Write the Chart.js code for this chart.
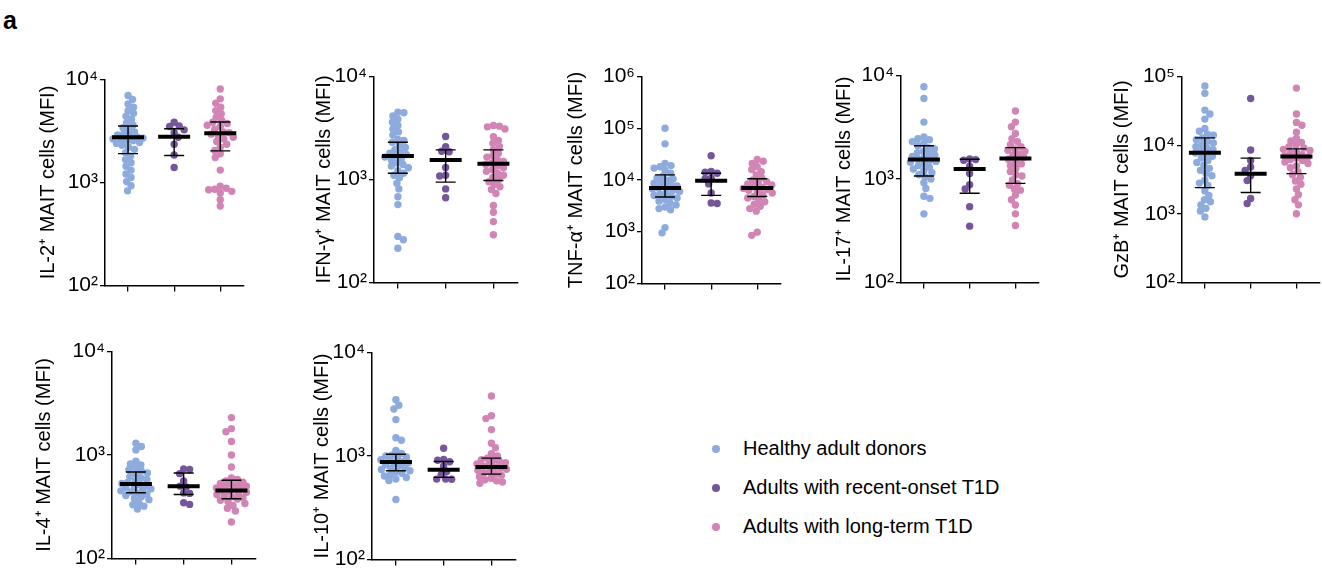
<!DOCTYPE html>
<html>
<head>
<meta charset="utf-8">
<script src="https://cdn.jsdelivr.net/npm/chart.js@4.4.0/dist/chart.umd.min.js"></script>
<style>
  body { margin: 0; width: 1322px; height: 572px; background: #fff; position: relative; overflow: hidden;
         font-family: "Liberation Sans", Arial, sans-serif; }
  #tag { position: absolute; left: 3px; top: 6px; font-size: 25px; font-weight: bold; }
  #legend { position: absolute; left: 712px; top: 429px; font-size: 20px; color: #000; }
  #legend div { height: 39px; display: flex; align-items: center; }
  #legend span.dot { width: 8px; height: 8px; border-radius: 50%; margin-right: 23px; display: inline-block; }
</style>
</head>
<body>
<div id="tag">a</div>
<div id="legend"></div>
<script>
const groups = ["Healthy adult donors", "Adults with recent-onset T1D", "Adults with long-term T1D"];
const colors = ["#8dabdc", "#76569a", "#d285b5"];

// IL-2
const il2Healthy = [7000, 6400, 5800, 5400, 5000, 4700, 4400, 4100, 3800, 3600, 3400, 3200, 3100, 2950, 2900, 2800, 2750, 2700, 2650, 2600, 2550, 2500, 2450, 2400, 2300, 2200, 2100, 1950, 1800, 1670, 1560, 1440, 1320, 1210, 1120, 1020, 930, 830];
const il2Recent = [3850, 3550, 3500, 3250, 3050, 2750, 2350, 1850, 1400];
const il2Long = [8100, 6500, 5900, 5400, 5000, 4650, 4300, 4000, 3850, 3750, 3600, 3500, 3300, 3100, 3050, 2950, 2850, 2750, 2650, 2500, 2350, 2200, 2050, 1900, 1750, 1320, 920, 880, 860, 850, 820, 790, 680, 590];
const il2Median = [2750, 2790, 3010];
const il2Q1 = [1910, 1830, 2030];
const il2Q3 = [3540, 3330, 3870];

// IFN-gamma
const ifngHealthy = [4500, 4450, 4150, 3850, 3600, 3350, 3100, 2900, 2700, 2450, 2400, 2300, 2150, 2050, 1950, 1850, 1800, 1750, 1700, 1650, 1600, 1550, 1450, 1400, 1350, 1300, 1220, 1150, 1100, 1040, 920, 810, 680, 570, 280, 260, 215];
const ifngRecent = [2620, 2080, 1880, 1860, 1310, 1100, 1080, 810, 665];
const ifngLong = [3350, 3300, 3250, 3100, 2600, 2400, 2250, 2100, 1950, 1800, 1700, 1650, 1550, 1500, 1450, 1400, 1350, 1300, 1250, 1200, 1150, 1100, 1050, 1000, 950, 900, 850, 800, 730, 560, 480, 390, 290];
const ifngMedian = [1690, 1550, 1420];
const ifngQ1 = [1150, 942, 978];
const ifngQ3 = [2300, 1940, 1940];

// TNF-alpha
const tnfHealthy = [100000, 50000, 21000, 19000, 18000, 17000, 15500, 13500, 12000, 11000, 10500, 9800, 9000, 8700, 8000, 7700, 7300, 7000, 6700, 6300, 6000, 5600, 5300, 5000, 4800, 4500, 4200, 3900, 3600, 3300, 3000, 2800, 2650, 1200, 950];
const tnfRecent = [29500, 14600, 14200, 13500, 10800, 10600, 8400, 5600, 3600, 3500];
const tnfLong = [25000, 23000, 21000, 18000, 16000, 14500, 12500, 11000, 10000, 9300, 8800, 8400, 8000, 7500, 7200, 6900, 6600, 6300, 6000, 5600, 5200, 4800, 4500, 4100, 3800, 3400, 3100, 2800, 2500, 980, 850];
const tnfMedian = [6970, 9640, 6970];
const tnfQ1 = [4680, 5040, 4780];
const tnfQ3 = [12560, 13500, 10600];

// IL-17
const il17Healthy = [7800, 6000, 3550, 2550, 2450, 2400, 2300, 2200, 2100, 2000, 1950, 1850, 1800, 1750, 1700, 1650, 1600, 1560, 1520, 1480, 1450, 1400, 1350, 1300, 1250, 1200, 1150, 1100, 1050, 1000, 920, 810, 680, 650, 460];
const il17Recent = [1560, 1540, 1520, 1330, 1130, 880, 800, 540, 350];
const il17Long = [4550, 3550, 3200, 2750, 2450, 2300, 2150, 2050, 1950, 1900, 1850, 1750, 1700, 1620, 1550, 1470, 1400, 1350, 1270, 1180, 1100, 1070, 980, 900, 870, 800, 780, 700, 630, 560, 460, 355];
const il17Median = [1546, 1250, 1580];
const il17Q1 = [1070, 728, 908];
const il17Q3 = [2100, 1550, 2010];

// GzB
const gzbHealthy = [73000, 57000, 32500, 28500, 24000, 17500, 16000, 14500, 14000, 12800, 12000, 11400, 10800, 10200, 9500, 9100, 8600, 8200, 7700, 7300, 6900, 6500, 6000, 5600, 5100, 4600, 4300, 3900, 3600, 3100, 2800, 2600, 2150, 1850, 1600, 1500, 1350, 1200, 1100, 900];
const gzbRecent = [48000, 8500, 6000, 4800, 4300, 3600, 3050, 1670, 1410];
const gzbLong = [68000, 28500, 21500, 19500, 15500, 12500, 11500, 11000, 10000, 9500, 9100, 8700, 8400, 8000, 7700, 7300, 7000, 6700, 6500, 6200, 6000, 5700, 5400, 5000, 4700, 4100, 3700, 3400, 3000, 2700, 2300, 1900, 1600, 1350, 1000];
const gzbMedian = [7740, 3850, 6850];
const gzbQ1 = [2410, 2040, 3850];
const gzbQ3 = [12800, 6490, 8850];

// IL-4
const il4Healthy = [1300, 1210, 1120, 870, 820, 800, 750, 720, 700, 670, 650, 620, 600, 580, 560, 545, 530, 515, 500, 490, 480, 470, 460, 450, 440, 430, 420, 405, 395, 380, 370, 345, 330, 320, 300];
const il4Recent = [735, 725, 660, 560, 500, 490, 430, 425, 345, 333];
const il4Long = [2300, 1800, 1680, 1350, 1000, 765, 600, 580, 560, 545, 530, 520, 510, 500, 490, 480, 470, 463, 455, 445, 436, 425, 415, 405, 395, 386, 375, 365, 355, 340, 325, 305, 287, 225];
const il4Median = [525, 499, 453];
const il4Q1 = [431, 415, 377];
const il4Q3 = [684, 670, 569];

// IL-10
const il10Healthy = [3500, 3100, 2850, 2250, 1500, 1420, 1130, 1060, 1020, 1000, 980, 950, 920, 900, 880, 860, 840, 820, 800, 780, 760, 740, 720, 700, 680, 660, 640, 620, 600, 580, 380];
const il10Recent = [1190, 925, 910, 880, 800, 710, 660, 600, 598, 595];
const il10Long = [3800, 2450, 2300, 1800, 1330, 1200, 1050, 1000, 950, 920, 900, 880, 860, 840, 820, 800, 780, 760, 745, 730, 710, 690, 670, 650, 630, 610, 590, 575, 560, 545];
const il10Median = [873, 736, 781];
const il10Q1 = [719, 621, 668];
const il10Q3 = [1040, 885, 953];

const sup = { 2: "\u00b2", 3: "\u00b3", 4: "\u2074", 5: "\u2075", 6: "\u2076" };
const FONT = "'Liberation Sans', Arial, sans-serif";

// panel placement (pixels on the page)
const panels = [
  { title: "IL-2\u207a MAIT cells (MFI)", series: [il2Healthy, il2Recent, il2Long], med: il2Median, q1: il2Q1, q3: il2Q3,
    max: 1e4, titleX: 48, axisX: 105, top: 79, bottom: 286, right: 245 },
  { title: "IFN-\u03b3\u207a MAIT cells (MFI)", series: [ifngHealthy, ifngRecent, ifngLong], med: ifngMedian, q1: ifngQ1, q3: ifngQ3,
    max: 1e4, titleX: 324, axisX: 374, top: 76, bottom: 283, right: 519 },
  { title: "TNF-\u03b1\u207a MAIT cells (MFI)", series: [tnfHealthy, tnfRecent, tnfLong], med: tnfMedian, q1: tnfQ1, q3: tnfQ3,
    max: 1e6, titleX: 576, axisX: 642, top: 76, bottom: 284, right: 782 },
  { title: "IL-17\u207a MAIT cells (MFI)", series: [il17Healthy, il17Recent, il17Long], med: il17Median, q1: il17Q1, q3: il17Q3,
    max: 1e4, titleX: 844, axisX: 901, top: 75, bottom: 283, right: 1040 },
  { title: "GzB\u207a MAIT cells (MFI)", series: [gzbHealthy, gzbRecent, gzbLong], med: gzbMedian, q1: gzbQ1, q3: gzbQ3,
    max: 1e5, titleX: 1122, axisX: 1182, top: 76, bottom: 283, right: 1321 },
  { title: "IL-4\u207a MAIT cells (MFI)", series: [il4Healthy, il4Recent, il4Long], med: il4Median, q1: il4Q1, q3: il4Q3,
    max: 1e4, titleX: 44, axisX: 112, top: 351, bottom: 559, right: 257 },
  { title: "IL-10\u207a MAIT cells (MFI)", series: [il10Healthy, il10Recent, il10Long], med: il10Median, q1: il10Q1, q3: il10Q3,
    max: 1e4, titleX: 322, axisX: 372, top: 352, bottom: 560, right: 517 },
];

// median + interquartile range bars
function statsPlugin(med, q1, q3) {
  return {
    id: "stats",
    afterDatasetsDraw(chart) {
      const { ctx, scales: { x, y } } = chart;
      ctx.save();
      ctx.strokeStyle = "#000";
      med.forEach((m, i) => {
        const cx = x.getPixelForValue(i);
        const ylo = y.getPixelForValue(q1[i]);
        const yhi = y.getPixelForValue(q3[i]);
        const ym = y.getPixelForValue(m);
        ctx.lineWidth = 1.4;
        ctx.beginPath();
        ctx.moveTo(cx, ylo); ctx.lineTo(cx, yhi);
        ctx.moveTo(cx - 10, ylo); ctx.lineTo(cx + 10, ylo);
        ctx.moveTo(cx - 10, yhi); ctx.lineTo(cx + 10, yhi);
        ctx.stroke();
        ctx.lineWidth = 4;
        ctx.beginPath();
        ctx.moveTo(cx - 16, ym); ctx.lineTo(cx + 16, ym);
        ctx.stroke();
      });
      ctx.restore();
    }
  };
}

// spread points sideways (simple beeswarm in pixel space, capped at +-15px)
function swarm(chart) {
  const xs = chart.scales.x, ys = chart.scales.y;
  const gap = 6, maxOff = 15;
  const unit = xs.getPixelForValue(1) - xs.getPixelForValue(0);
  chart.data.datasets.forEach((ds, gi) => {
    const pts = ds.values.map(v => ({ v, py: ys.getPixelForValue(v), dx: 0 }))
      .sort((a, b) => a.py - b.py);
    const placed = [];
    pts.forEach((p, n) => {
      const flip = n % 2 ? 1 : -1;
      let bestOff = 0, bestDist = -1, found = false;
      for (let k = 0; k <= maxOff * 4; k++) {
        const off = (k % 2 ? flip : -flip) * Math.ceil(k / 2) * 0.5;
        let near = Infinity;
        placed.forEach(q => {
          const dy = q.py - p.py;
          if (Math.abs(dy) < gap) near = Math.min(near, Math.hypot(q.dx - off, dy));
        });
        if (near >= gap) { p.dx = off; found = true; break; }
        if (near > bestDist) { bestDist = near; bestOff = off; }
      }
      if (!found) p.dx = bestOff;
      placed.push(p);
    });
    ds.data = pts.map(p => ({ x: gi + p.dx / unit, y: p.v }));
  });
  chart.update("none");
}

panels.forEach(cfg => {
  const padTop = 14, xH = 14;
  const left = Math.round(cfg.titleX - 12);
  const w = cfg.right - left + 2;
  const h = cfg.bottom - cfg.top + padTop + xH;
  const cv = document.createElement("canvas");
  cv.width = w; cv.height = h;
  cv.style.cssText = `position:absolute;left:${left}px;top:${cfg.top - padTop}px;`;
  document.body.appendChild(cv);

  const decades = [];
  for (let e = 2; 10 ** e <= cfg.max; e++) decades.push(10 ** e);

  const chart = new Chart(cv, {
    type: "scatter",
    data: {
      datasets: cfg.series.map((vals, i) => ({
        label: groups[i],
        values: vals,
        data: vals.map(v => ({ x: i, y: v })),
        backgroundColor: colors[i],
        borderWidth: 0,
        pointRadius: 3.7,
        pointHoverRadius: 3.7,
        clip: false,
      })),
    },
    options: {
      responsive: false,
      animation: false,
      events: [],
      layout: { padding: { top: padTop, right: 2, left: 0, bottom: 0 } },
      plugins: { legend: { display: false }, tooltip: { enabled: false } },
      scales: {
        x: {
          type: "linear",
          min: -0.5,
          max: 2.5,
          afterBuildTicks: s => { s.ticks = [0, 1, 2].map(v => ({ value: v })); },
          afterFit: s => { s.height = xH; },
          ticks: { display: false },
          grid: { drawOnChartArea: false, drawTicks: true, tickLength: 6, color: "#000", lineWidth: 1.3 },
          border: { color: "#000", width: 1.5 },
        },
        y: {
          type: "logarithmic",
          min: 100,
          max: cfg.max,
          afterBuildTicks: s => { s.ticks = decades.map(v => ({ value: v })); },
          afterFit: s => { s.width = cfg.axisX - left; },
          ticks: {
            callback: v => "10" + sup[Math.round(Math.log10(v))],
            font: { family: FONT, size: 21 },
            color: "#000",
            padding: 2,
          },
          grid: { drawOnChartArea: false, drawTicks: true, tickLength: 5, color: "#000", lineWidth: 1.3 },
          border: { color: "#000", width: 1.5 },
          title: {
            display: true,
            text: cfg.title,
            font: { family: FONT, size: 20 },
            color: "#000",
            padding: { top: 0, bottom: 0 },
          },
        },
      },
    },
    plugins: [statsPlugin(cfg.med, cfg.q1, cfg.q3)],
  });
  swarm(chart);
});

// legend
const lg = document.getElementById("legend");
groups.forEach((g, i) => {
  const row = document.createElement("div");
  row.innerHTML = `<span class="dot" style="background:${colors[i]}"></span>${g}`;
  lg.appendChild(row);
});
</script>
</body>
</html>
